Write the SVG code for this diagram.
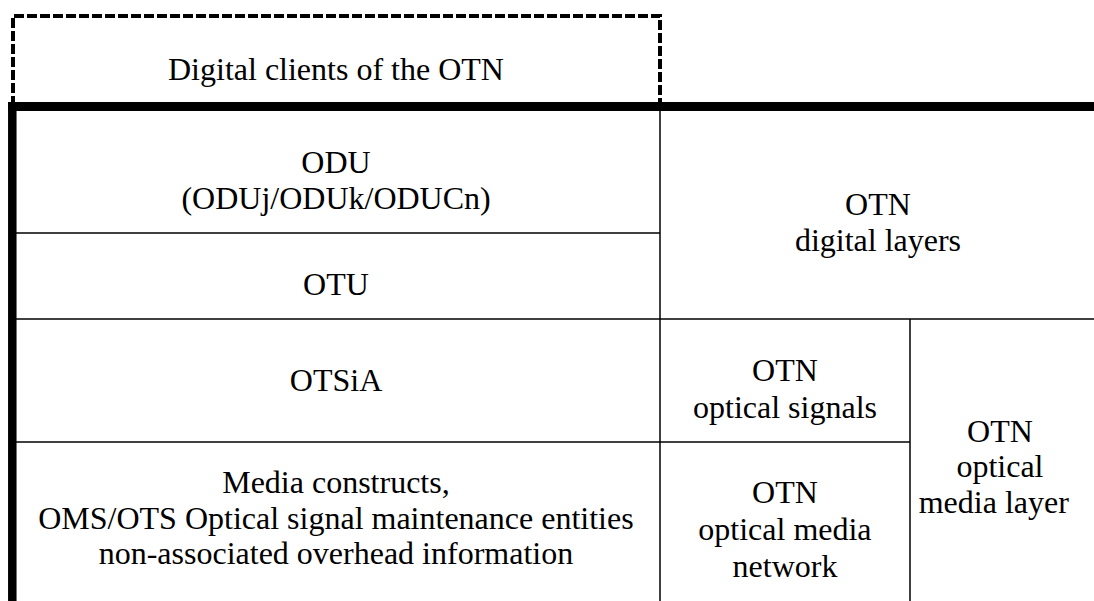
<svg xmlns="http://www.w3.org/2000/svg" width="1094" height="601" viewBox="0 0 1094 601">
<rect width="1094" height="601" fill="#fff"/>
<g id="connectors" stroke="#000" fill="none">
<path stroke-width="4" stroke-dasharray="10 3" d="M13,106 V16 H660 V106"/>
<path stroke-width="9" d="M8,106.5 H1094"/>
<path stroke-width="8.5" d="M12.3,102 V601"/>
<g stroke-width="1.5">
<path d="M660,111 V601"/>
<path d="M16,233 H660"/>
<path d="M16,319 H1094"/>
<path d="M910,319 V601"/>
<path d="M16,442 H910"/>
</g>
</g>
<g id="clients"><text font-family="Liberation Serif" font-size="32" x="168" y="80">Digital clients of the OTN</text></g>
<g id="odu"><text font-family="Liberation Serif" font-size="32" x="301.3" y="173">ODU</text><text font-family="Liberation Serif" font-size="32" x="181.4" y="209">(ODUj/ODUk/ODUCn)</text></g>
<g id="otu"><text font-family="Liberation Serif" font-size="32" x="303.1" y="295">OTU</text></g>
<g id="digital"><text font-family="Liberation Serif" font-size="32" x="845.1" y="215">OTN</text><text font-family="Liberation Serif" font-size="32" x="794.9" y="251">digital layers</text></g>
<g id="otsia"><text font-family="Liberation Serif" font-size="32" x="289.8" y="391">OTSiA</text></g>
<g id="signals"><text font-family="Liberation Serif" font-size="32" x="752.1" y="381">OTN</text><text font-family="Liberation Serif" font-size="32" x="693" y="418">optical signals</text></g>
<g id="media"><text font-family="Liberation Serif" font-size="32" x="222.2" y="493">Media constructs,</text><text font-family="Liberation Serif" font-size="32" x="38.2" y="529">OMS/OTS Optical signal maintenance entities</text><text font-family="Liberation Serif" font-size="32" x="98.7" y="564">non-associated overhead information</text></g>
<g id="medianet"><text font-family="Liberation Serif" font-size="32" x="752.1" y="503">OTN</text><text font-family="Liberation Serif" font-size="32" x="698.3" y="540">optical media</text><text font-family="Liberation Serif" font-size="32" x="732.6" y="577">network</text></g>
<g id="medialayer"><text font-family="Liberation Serif" font-size="32" x="967.1" y="442">OTN</text><text font-family="Liberation Serif" font-size="32" x="956.4" y="477">optical</text><text font-family="Liberation Serif" font-size="32" x="918.7" y="513">media layer</text></g>
</svg>
